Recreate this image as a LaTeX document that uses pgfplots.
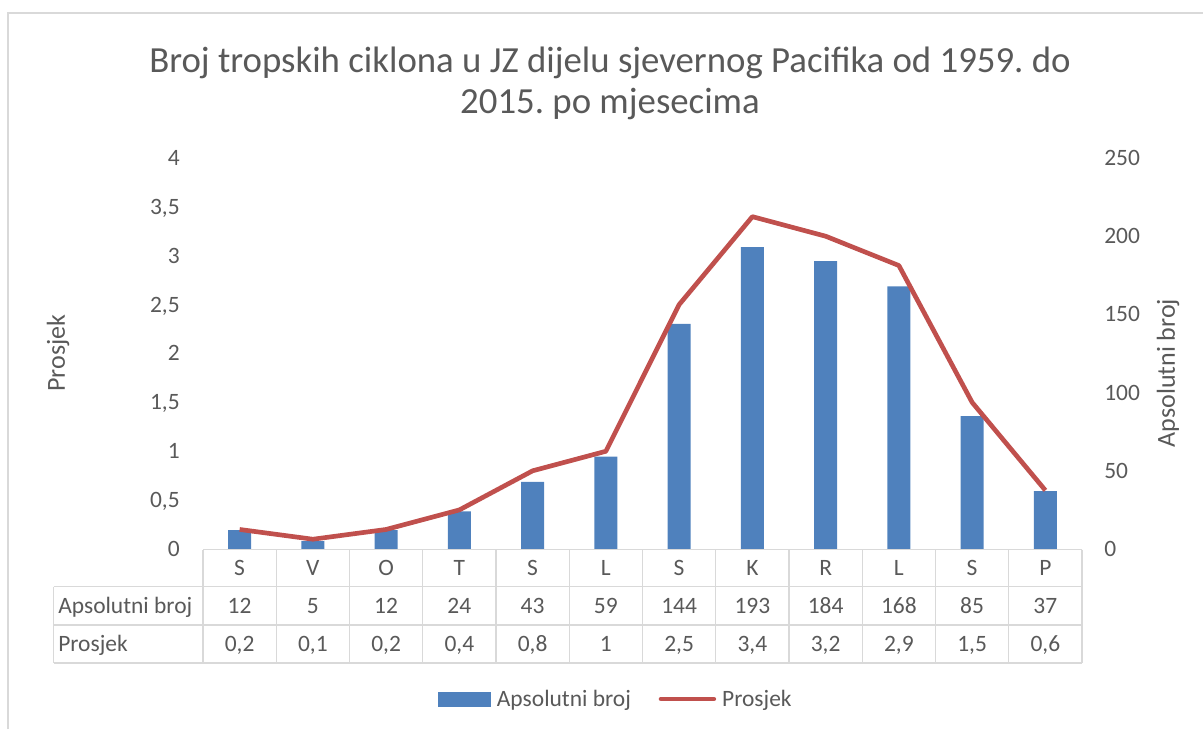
\documentclass[border=0pt]{standalone}
\usepackage{pgfplots}
\pgfplotsset{compat=1.18}
\usepackage{pgfplotstable}
\usepackage{fontspec}
\setmainfont{Carlito}
\frenchspacing
\definecolor{txt}{HTML}{595959}
\definecolor{barblue}{HTML}{4F81BD}
\definecolor{linered}{HTML}{C0504D}
\definecolor{gridc}{HTML}{D9D9D9}

\pgfplotstableread{
x cat abs pros
0 S 12 0.2
1 V 5 0.1
2 O 12 0.2
3 T 24 0.4
4 S 43 0.8
5 L 59 1
6 S 144 2.5
7 K 193 3.4
8 R 184 3.2
9 L 168 2.9
10 S 85 1.5
11 P 37 0.6
}\data

\newcommand{\tfont}{\fontsize{17.6}{21}\selectfont}

\begin{document}
\begin{tikzpicture}
\begin{scope}[x=0.75pt,y=-0.75pt]
\path[use as bounding box] (0,0) rectangle (1203,729);
\draw[gridc, line width=1.5pt] (7.5,729) -- (7.5,12.5) -- (1203,12.5);
\end{scope}

\begin{axis}[
  at={(152.25pt,-411.75pt)}, anchor=south west,
  scale only axis, width=659.25pt, height=293.25pt,
  xmin=-0.5, xmax=11.5, ymin=0, ymax=250,
  axis y line*=right, axis x line=none,
  y axis line style={draw=none},
  ytick={0,50,100,150,200,250},
  major tick length=0pt,
  /pgf/number format/assume math mode=true,
  yticklabel style={font=\tfont, text=txt, anchor=base west, inner sep=0pt, xshift=16.5pt, yshift=-5.6pt},
  clip=false,
]
\addplot[ybar, bar width=17.25pt, fill=barblue, draw=none] table[x=x,y=abs]{\data};
\end{axis}

\begin{axis}[
  at={(152.25pt,-411.75pt)}, anchor=south west,
  scale only axis, width=659.25pt, height=293.25pt,
  xmin=-0.5, xmax=11.5, ymin=0, ymax=4,
  axis y line*=left, axis x line=none,
  y axis line style={draw=none},
  ytick={0,0.5,1,1.5,2,2.5,3,3.5,4},
  major tick length=0pt,
  /pgf/number format/assume math mode=true,
  /pgf/number format/use comma,
  yticklabel style={font=\tfont, text=txt, anchor=base east, inner sep=0pt, xshift=-17.25pt, yshift=-5.6pt},
  clip=false,
  legend columns=2,
  legend style={at={(0.4687,-0.3836)}, anchor=center, draw=none, fill=none,
    inner sep=0pt, font=\tfont, text=txt,
    nodes={inner sep=0pt},
    /tikz/every odd column/.append style={column sep=4.5pt},
    /tikz/every even column/.append style={column sep=20.8pt}},
]
\addlegendimage{legend image code/.code={\fill[barblue] (0pt,-5.1pt) rectangle (39pt,5.1pt);}}
\addlegendentry{Apsolutni broj}
\addplot[linered, line width=3.5pt, line join=round,
  legend image code/.code={\draw[linered, line width=3.5pt, line cap=round] (1.6pt,0pt) -- (41.2pt,0pt);}]
  table[x=x,y=pros]{\data};
\addlegendentry{Prosjek}
\end{axis}

\begin{scope}[x=0.75pt,y=-0.75pt, every node/.style={font=\tfont, text=txt, inner sep=0pt}]
\draw[gridc, line width=1.1pt] (203,549.5) -- (1082,549.5);
\draw[gridc, line width=1.1pt] (53.6,586.7) -- (1082,586.7);
\draw[gridc, line width=1.1pt] (53.6,625) -- (1082,625);
\draw[gridc, line width=1.1pt] (53.6,663) -- (1082,663);
\draw[gridc, line width=1.1pt] (53.6,586.7) -- (53.6,663);
\foreach \k in {0,...,12} \draw[gridc, line width=1.1pt] ({203+73.25*\k},549.5) -- ({203+73.25*\k},663);
\node[anchor=base west] at (58,613.4) {Apsolutni broj};
\node[anchor=base west] at (58,651.5) {Prosjek};
\foreach \i in {0,...,11}{
  \pgfplotstablegetelem{\i}{cat}\of{\data}
  \node[anchor=base] at ({203+73.25*(\i+0.5)},575.6) {\pgfplotsretval};
  \pgfplotstablegetelem{\i}{abs}\of{\data}
  \node[anchor=base] at ({203+73.25*(\i+0.5)},613.4) {\pgfplotsretval};
  \pgfplotstablegetelem{\i}{pros}\of{\data}
  \node[anchor=base] at ({203+73.25*(\i+0.5)},651.5) {\pgfmathprintnumber[use comma,assume math mode=true]{\pgfplotsretval}};
}
\node[font=\fontsize{19.5}{23}\selectfont, rotate=90] at (58,353) {Prosjek};
\node[font=\fontsize{19.5}{23}\selectfont, rotate=90] at (1168,373) {Apsolutni broj};
\node[font=\fontsize{27.6}{33}\selectfont, anchor=base] at (610,72) {Broj tropskih ciklona u JZ dijelu sjevernog Pacifika od 1959. do};
\node[font=\fontsize{27.6}{33}\selectfont, anchor=base] at (610,113) {2015. po mjesecima};
\end{scope}
\end{tikzpicture}
\end{document}
